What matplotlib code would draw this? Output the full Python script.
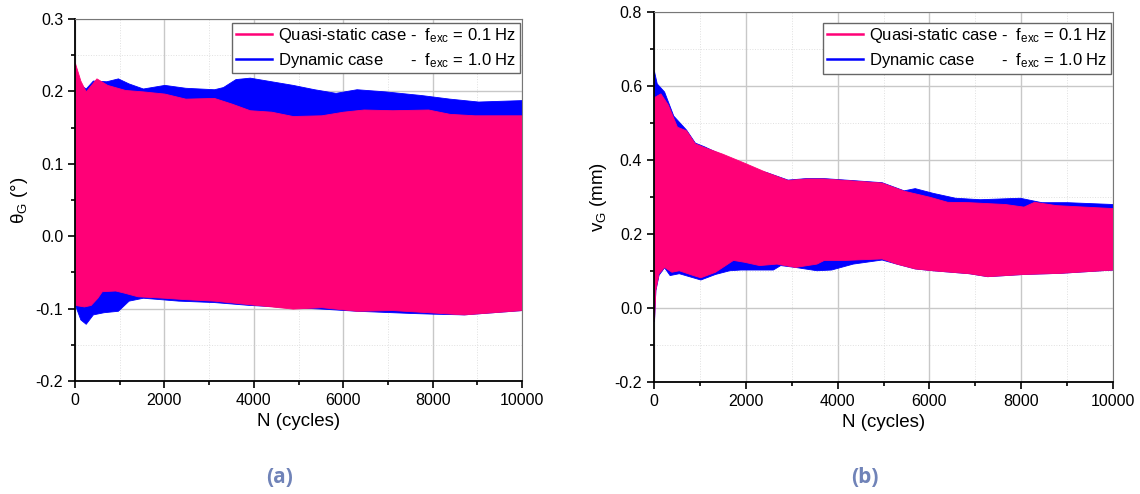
import numpy as np
import matplotlib.pyplot as plt
from matplotlib.ticker import MultipleLocator, FormatStrFormatter

plt.rcParams['font.family'] = ['Liberation Sans', 'DejaVu Sans']
plt.rcParams['mathtext.fontset'] = 'custom'
plt.rcParams['mathtext.rm'] = 'Liberation Sans'
plt.rcParams['mathtext.it'] = 'Liberation Sans:italic'

PINK = '#ff0077'
BLUE = '#0000ff'

# (a) theta_G : envelopes of the oscillating signal
a_pink_hi_n = [0, 120, 240, 480, 720, 1120, 1520, 2000, 2470, 3110, 3510, 3910, 4390, 4870, 5510, 6000,
               6460, 7100, 7900, 8380, 8940, 10000]
a_pink_hi = [0.239, 0.215, 0.20, 0.218, 0.209, 0.202, 0.20, 0.197, 0.19, 0.191, 0.183, 0.174, 0.172, 0.166,
             0.167, 0.172, 0.175, 0.174, 0.175, 0.169, 0.167, 0.167]
a_pink_lo_n = [0, 200, 350, 500, 600, 900, 1100, 1400, 2000, 2470, 3110, 3910, 4870, 5510, 6300, 7100, 7900,
               8700, 10000]
a_pink_lo = [-0.095, -0.097, -0.095, -0.085, -0.076, -0.075, -0.078, -0.083, -0.085, -0.087, -0.089, -0.094,
             -0.10, -0.098, -0.103, -0.102, -0.105, -0.108, -0.102]
a_blue_hi_n = [0, 100, 240, 400, 700, 960, 1200, 1520, 2000, 2470, 3110, 3310, 3590, 3910, 4390, 4870, 5350,
               5830, 6300, 6940, 7740, 8380, 9020, 10000]
a_blue_hi = [0.22, 0.21, 0.204, 0.215, 0.214, 0.218, 0.211, 0.204, 0.209, 0.205, 0.203, 0.206, 0.217, 0.219,
             0.214, 0.209, 0.203, 0.198, 0.203, 0.20, 0.195, 0.19, 0.186, 0.188]
a_blue_lo_n = [0, 120, 240, 400, 640, 960, 1200, 1520, 2310, 3110, 3910, 5510, 6300, 7500, 8000, 8700, 10000]
a_blue_lo = [-0.095, -0.115, -0.121, -0.108, -0.105, -0.103, -0.089, -0.085, -0.089, -0.091, -0.095, -0.10,
             -0.103, -0.106, -0.107, -0.108, -0.102]

# (b) v_G
b_pink_hi_n = [0, 140, 300, 500, 700, 890, 1090, 1490, 1960, 2430, 2910, 3300, 3700, 4170, 4960, 5440, 5990,
               6390, 6860, 7650, 8050, 8280, 8760, 10000]
b_pink_hi = [0.57, 0.58, 0.55, 0.49, 0.48, 0.445, 0.435, 0.417, 0.393, 0.368, 0.346, 0.35, 0.35, 0.346, 0.339,
             0.317, 0.301, 0.287, 0.286, 0.281, 0.274, 0.287, 0.278, 0.27]
b_pink_lo_n = [0, 30, 100, 220, 380, 540, 850, 1010, 1330, 1720, 1960, 2290, 2670, 3070, 3540, 3700, 4170,
               4960, 5280, 5680, 6070, 6860, 7260, 8050, 8840, 10000]
b_pink_lo = [-0.032, 0.05, 0.094, 0.111, 0.098, 0.102, 0.089, 0.083, 0.098, 0.13, 0.125, 0.116, 0.12, 0.111,
             0.12, 0.13, 0.13, 0.134, 0.12, 0.107, 0.102, 0.094, 0.086, 0.092, 0.095, 0.104]
b_blue_hi_n = [0, 60, 220, 420, 700, 890, 1090, 1560, 2120, 2430, 2910, 3300, 3700, 4170, 4960, 5440, 5520,
               5680, 6080, 6560, 7100, 7970, 8440, 9000, 10000]
b_blue_hi = [0.64, 0.607, 0.585, 0.52, 0.482, 0.447, 0.437, 0.41, 0.375, 0.368, 0.347, 0.351, 0.351, 0.347,
             0.34, 0.318, 0.32, 0.324, 0.311, 0.298, 0.294, 0.298, 0.286, 0.286, 0.281]
b_blue_lo_n = [0, 30, 100, 220, 340, 540, 1010, 1330, 1640, 1880, 2590, 2750, 3070, 3540, 3860, 4330, 4960,
               5280, 5680, 6070, 6860, 7260, 8050, 8840, 10000]
b_blue_lo = [-0.035, 0.048, 0.09, 0.11, 0.089, 0.094, 0.077, 0.092, 0.102, 0.104, 0.104, 0.116, 0.111, 0.102,
             0.104, 0.12, 0.131, 0.12, 0.107, 0.102, 0.094, 0.086, 0.092, 0.095, 0.104]

LEG_Q = r'Quasi-static case -  f$_{\mathrm{exc}}$ = 0.1 Hz'
LEG_D = r'Dynamic case      -  f$_{\mathrm{exc}}$ = 1.0 Hz'


def band(ax, n_hi, hi, n_lo, lo, color):
    xs = np.union1d(n_hi, n_lo)
    yh = np.interp(xs, n_hi, hi)
    yl = np.interp(xs, n_lo, lo)
    ax.fill_between(xs, yl, yh, color=color, linewidth=0.6, edgecolor=color)


def style(ax, ylim, ylabel, leg_top):
    ax.set_xlim(0, 10000)
    ax.set_ylim(*ylim)
    ax.set_axisbelow(True)
    ax.xaxis.set_major_locator(MultipleLocator(2000))
    ax.xaxis.set_minor_locator(MultipleLocator(1000))
    big = ylim[1] > 0.5
    ax.yaxis.set_major_locator(MultipleLocator(0.2 if big else 0.1))
    ax.yaxis.set_minor_locator(MultipleLocator(0.1 if big else 0.05))
    ax.yaxis.set_major_formatter(FormatStrFormatter('%.1f'))
    ax.grid(which='major', color='#c8c8c8', linewidth=1.0)
    ax.grid(which='minor', color='#e0e0e0', linewidth=0.7, linestyle=':')
    ax.tick_params(which='both', direction='out', labelsize=11.5, width=1.2)
    ax.tick_params(which='major', length=5)
    ax.tick_params(which='minor', length=3)
    for s in ['top', 'right']:
        ax.spines[s].set_color('#777777')
    for s in ['left', 'bottom']:
        ax.spines[s].set_linewidth(1.3)
    ax.set_xlabel('N (cycles)', fontsize=13.5)
    ax.set_ylabel(ylabel, fontsize=13.5)
    ax.legend(handles=[plt.Line2D([], [], color=PINK, lw=1.8, label=LEG_Q),
                       plt.Line2D([], [], color=BLUE, lw=1.8, label=LEG_D)],
              loc='upper right', bbox_to_anchor=(0.995, leg_top), fontsize=12, frameon=True,
              fancybox=False, edgecolor='#666666', framealpha=1, borderpad=0.2, handlelength=2.2,
              handletextpad=0.35, labelspacing=0.35, borderaxespad=0)


fig = plt.figure(figsize=(11.4, 4.94), dpi=100)
ax1 = fig.add_axes([75 / 1140, 1 - 381 / 494, 447 / 1140, 362 / 494])
ax2 = fig.add_axes([654 / 1140, 1 - 382 / 494, 459 / 1140, 370 / 494])

band(ax1, a_blue_hi_n, a_blue_hi, a_blue_lo_n, a_blue_lo, BLUE)
band(ax1, a_pink_hi_n, a_pink_hi, a_pink_lo_n, a_pink_lo, PINK)
style(ax1, (-0.2, 0.3), r'θ$_{\mathrm{G}}$ (°)', 1 - 4 / 362)

band(ax2, b_blue_hi_n, b_blue_hi, b_blue_lo_n, b_blue_lo, BLUE)
band(ax2, b_pink_hi_n, b_pink_hi, b_pink_lo_n, b_pink_lo, PINK)
style(ax2, (-0.2, 0.8), r'v$_{\mathrm{G}}$ (mm)', 1 - 11 / 370)

for x, s in [(280, '(a)'), (865, '(b)')]:
    fig.text(x / 1140, 1 - 477 / 494, s, ha='center', va='center', fontsize=15, fontweight='bold',
             color='#7083b8', family='Open Sans')

fig.savefig('out.png', dpi=100)
